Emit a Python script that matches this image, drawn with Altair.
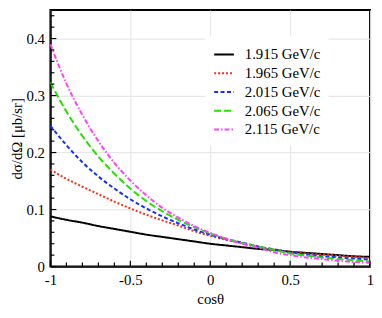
import altair as alt
import pandas as pd

cos_theta = [-1.0, -0.9, -0.8, -0.7, -0.6, -0.5, -0.4, -0.3, -0.2, -0.1, 0.0,
             0.1, 0.2, 0.3, 0.4, 0.5, 0.6, 0.7, 0.8, 0.9, 1.0]

s1915 = [0.088, 0.082, 0.077, 0.071, 0.066, 0.061, 0.056, 0.052, 0.048, 0.044, 0.040,
         0.037, 0.034, 0.031, 0.029, 0.026, 0.024, 0.022, 0.020, 0.018, 0.017]
s1965 = [0.170, 0.154, 0.140, 0.127, 0.114, 0.102, 0.091, 0.081, 0.072, 0.062, 0.054,
         0.047, 0.041, 0.035, 0.030, 0.026, 0.023, 0.021, 0.019, 0.017, 0.015]
s2015 = [0.247, 0.213, 0.183, 0.158, 0.137, 0.118, 0.102, 0.088, 0.076, 0.065, 0.056,
         0.048, 0.042, 0.035, 0.030, 0.025, 0.021, 0.018, 0.016, 0.014, 0.012]
s2065 = [0.323, 0.272, 0.229, 0.193, 0.163, 0.137, 0.115, 0.097, 0.082, 0.069, 0.058,
         0.049, 0.041, 0.035, 0.029, 0.023, 0.019, 0.016, 0.013, 0.011, 0.009]
s2115 = [0.390, 0.321, 0.266, 0.220, 0.182, 0.151, 0.125, 0.103, 0.086, 0.071, 0.059,
         0.049, 0.040, 0.033, 0.025, 0.020, 0.016, 0.013, 0.010, 0.008, 0.0065]

labels = ["1.915 GeV/c", "1.965 GeV/c", "2.015 GeV/c", "2.065 GeV/c", "2.115 GeV/c"]
colors = ["#000000", "#ff2a10", "#1030ff", "#22e000", "#ff40ff"]
dashes = [[1, 0], [2, 2], [4, 2.5], [7, 3], [5, 2, 1.5, 2]]

x_major = [-1.0, -0.5, 0.0, 0.5, 1.0]
x_minor = [-0.9, -0.8, -0.7, -0.6, -0.4, -0.3, -0.2, -0.1, 0.1, 0.2, 0.3, 0.4, 0.6, 0.7, 0.8, 0.9]
y_major = [0.0, 0.1, 0.2, 0.3, 0.4]
y_minor = [0.02, 0.04, 0.06, 0.08, 0.12, 0.14, 0.16, 0.18, 0.22, 0.24, 0.26, 0.28,
           0.32, 0.34, 0.36, 0.38, 0.42, 0.44]

rows = []
for lab, vals in zip(labels, [s1915, s1965, s2015, s2065, s2115]):
    for c, v in zip(cos_theta, vals):
        rows.append({"cos": c, "v": v, "series": lab})
df = pd.DataFrame(rows)

W, H = 324, 260
FONT = "Liberation Serif"

xscale = alt.Scale(domain=[-1, 1], nice=False, zero=False)
yscale = alt.Scale(domain=[0, 0.45], nice=False)

leg = dict(title=None, orient="none", legendX=157, legendY=26,
           fillColor="white", padding=8, symbolType="stroke",
           symbolSize=400, symbolStrokeWidth=2, labelFontSize=15,
           labelFont=FONT, rowPadding=0, labelOffset=10)

lines = alt.Chart(df).mark_line(strokeWidth=2, interpolate="monotone").encode(
    x=alt.X("cos:Q", scale=xscale,
            axis=alt.Axis(values=x_major, title="cosθ", labelExpr="toString(datum.value)",
                          ticks=False, grid=True, gridColor="#e4e4e4", labelPadding=6,
                          titlePadding=4, labelFlush=False)),
    y=alt.Y("v:Q", scale=yscale,
            axis=alt.Axis(values=y_major, title="dσ/dΩ [μb/sr]", labelExpr="toString(datum.value)",
                          ticks=False, grid=True, gridColor="#e4e4e4", labelPadding=6,
                          titlePadding=2, labelFlush=False)),
    color=alt.Color("series:N", scale=alt.Scale(domain=labels, range=colors),
                    legend=alt.Legend(**leg)),
    strokeDash=alt.StrokeDash("series:N", scale=alt.Scale(domain=labels, range=dashes),
                              legend=alt.Legend(**leg)),
)

xt_major = alt.Chart(pd.DataFrame({"cos": x_major})).mark_rule(color="black", strokeWidth=1.2).encode(
    x=alt.X("cos:Q", scale=xscale), y=alt.value(H), y2=alt.value(H - 6))
xt_minor = alt.Chart(pd.DataFrame({"cos": x_minor})).mark_rule(color="black", strokeWidth=1.2).encode(
    x=alt.X("cos:Q", scale=xscale), y=alt.value(H), y2=alt.value(H - 4))
yt_major = alt.Chart(pd.DataFrame({"v": y_major})).mark_rule(color="black", strokeWidth=1.2).encode(
    y=alt.Y("v:Q", scale=yscale), x=alt.value(0), x2=alt.value(6))
yt_minor = alt.Chart(pd.DataFrame({"v": y_minor})).mark_rule(color="black", strokeWidth=1.2).encode(
    y=alt.Y("v:Q", scale=yscale), x=alt.value(0), x2=alt.value(4))

chart = alt.layer(lines, xt_major, xt_minor, yt_major, yt_minor).properties(
    width=W, height=H,
    autosize=alt.AutoSizeParams(type="none"),
    padding={"left": 43, "top": 0, "right": 4, "bottom": 44},
).configure(font=FONT).configure_view(
    stroke="black", strokeWidth=2
).configure_axis(
    domainColor="black", domainWidth=1.5, labelFont=FONT, titleFont=FONT,
    labelFontSize=15, titleFontSize=15, labelColor="black", titleColor="black",
    titleFontWeight="normal"
)

chart.save("out.html", embed_options={"renderer": "svg", "actions": False})
